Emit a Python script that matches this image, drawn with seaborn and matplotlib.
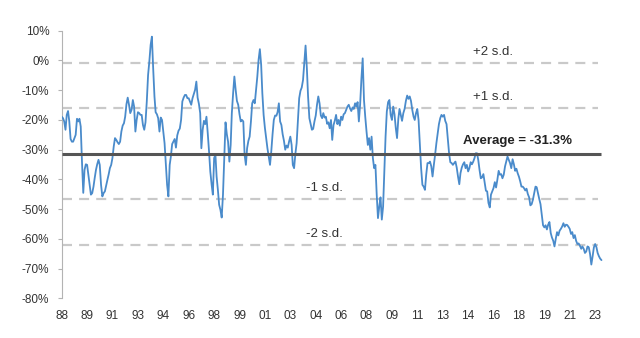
import numpy as np
import pandas as pd
import matplotlib
matplotlib.use("Agg")
import matplotlib.pyplot as plt
import seaborn as sns

# ---------------- data ----------------
start_month = "1988-01-01"
valuation = [
    # 1988-01 .. 1993-08
    -18.9, -19.4, -20.5, -23.3, -18.3, -17.0, -20.5, -26.4, -27.3, -27.3,
    -26.1, -25.0, -19.6, -20.5, -19.6, -22.2, -34.0, -44.5, -36.8, -34.9,
    -35.1, -38.4, -41.8, -45.1, -44.6, -42.4, -39.6, -36.8, -34.9, -33.4,
    -35.1, -41.8, -45.7, -44.6, -44.0, -42.0, -40.1, -38.2, -36.2, -35.1,
    -32.8, -28.9, -26.1, -26.7, -27.5, -28.1, -27.3, -23.9, -21.9, -21.1,
    -18.9, -14.7, -12.5, -14.9, -17.7, -16.6, -13.3, -15.5, -23.9, -20.0,
    -17.4, -17.7, -18.3, -18.3, -21.7, -23.3, -20.8, -13.8,
    # 1993-09 .. 1999-08
    -4.9, -0.4, 5.2, 8.0, -2.6, -12.1, -17.4, -18.1, -19.4, -23.9,
    -19.2, -20.0, -23.9, -27.8, -35.1, -41.8, -45.7, -35.1, -32.3, -28.1,
    -27.3, -26.4, -29.3, -25.2, -23.6, -22.9, -20.0, -13.8, -12.5, -11.6,
    -11.6, -12.7, -12.7, -13.8, -14.9, -12.7, -11.3, -9.9, -7.1, -12.5,
    -14.6, -17.7, -29.5, -23.3, -20.3, -21.4, -18.9, -24.5, -30.6, -37.3,
    -41.6, -45.1, -32.8, -31.7, -39.0, -43.5, -48.5, -50.2, -52.8, -45.1,
    -32.3, -20.8, -24.8, -27.3, -34.0, -28.4, -17.7, -11.0, -5.4, -9.9,
    -13.6, -14.9,
    # 1999-09 .. 2005-06
    -18.1, -20.5, -20.0, -20.5, -31.7, -35.1, -29.5, -27.0, -25.6, -20.5,
    -14.4, -13.3, -14.4, -9.9, -5.4, 0.2, 3.8, -1.5, -11.0, -18.3,
    -22.6, -26.1, -29.5, -32.3, -35.1, -30.6, -24.8, -20.0, -18.5, -18.6,
    -17.4, -14.4, -20.5, -21.7, -24.8, -27.0, -30.0, -28.6, -29.3, -27.3,
    -25.6, -28.4, -35.1, -36.2, -31.5, -27.8, -20.5, -12.7, -10.2, -9.1,
    -6.6, -1.0, 5.0, -2.6, -12.1, -19.4, -21.4, -23.3, -23.0, -20.5,
    -18.5, -14.9, -12.1, -14.4, -18.5, -19.4, -17.7, -19.2, -18.9, -21.3,
    # 2005-07 .. 2011-05
    -20.8, -22.8, -20.0, -26.7, -21.7, -20.3, -18.3, -21.4, -20.0, -21.9,
    -18.9, -20.0, -18.1, -17.7, -16.6, -15.5, -14.9, -16.1, -17.0, -15.8,
    -16.3, -14.4, -15.5, -14.0, -20.5, -14.7, -6.0, 0.7, -13.3, -18.9,
    -23.9, -28.4, -26.1, -30.0, -25.6, -32.8, -36.2, -35.1, -45.1, -53.0,
    -49.1, -46.0, -53.5, -49.1, -38.4, -25.6, -17.2, -14.0, -13.3, -18.3,
    -20.0, -15.5, -18.1, -22.6, -26.1, -19.6, -16.3, -18.3, -20.3, -17.7,
    -16.3, -13.6, -11.8, -12.9, -12.1, -13.6, -16.6, -18.9, -20.0, -17.7,
    -16.3,
    # 2011-06 .. 2017-04
    -20.0, -27.8, -36.2, -41.8, -42.4, -43.5, -38.4, -34.5, -34.5,
    -34.0, -35.6, -39.0, -35.1, -31.7, -27.8, -24.5, -21.4, -19.4, -18.3,
    -18.9, -18.3, -20.3, -21.4, -26.1, -31.2, -34.2, -34.5, -35.1, -34.5,
    -34.0, -36.0, -39.0, -41.6, -37.9, -36.0, -34.9, -34.2, -36.2, -35.1,
    -37.3, -36.2, -34.2, -34.9, -34.0, -32.8, -31.2, -31.2, -33.4, -36.8,
    -39.6, -39.3, -38.2, -40.9, -43.8, -44.0, -47.9, -49.4, -45.1, -44.0,
    -42.9, -40.9, -42.7, -40.1, -37.1, -38.4, -38.2, -39.6, -38.4, -35.6,
    -34.0, -32.3,
    # 2017-05 .. 2023-06
    -33.4, -34.5, -36.2, -33.2, -34.9, -37.1, -36.4, -37.9,
    -39.1, -40.7, -42.4, -42.4, -42.9, -43.7, -43.1, -44.9, -46.0, -48.7,
    -48.3, -46.8, -44.6, -42.4, -42.6, -44.6, -46.5, -48.3, -51.9, -55.4,
    -56.1, -55.4, -56.8, -55.2, -54.3, -58.0, -59.5, -60.6, -62.5, -59.9,
    -57.7, -58.8, -57.2, -56.6, -55.8, -54.7, -55.9, -55.2, -55.3, -55.9,
    -56.6, -58.3, -57.7, -59.7, -58.7, -60.6, -61.7, -61.5, -62.3, -63.3,
    -62.5, -63.3, -64.7, -64.2, -62.5, -62.8, -65.1, -68.6, -65.8, -62.8,
    -61.7, -62.8, -64.7, -65.8, -66.6, -67.1,
]
average = -31.3
std_dev = 15.3
sd_multiples = [2, 1, -1, -2]
sd_labels = ["+2 s.d.", "+1 s.d.", "-1 s.d.", "-2 s.d."]
x_tick_labels = ["88", "89", "91", "93", "94", "96", "98", "99", "01", "03", "04",
                 "06", "08", "09", "11", "13", "14", "16", "18", "19", "21", "23"]
y_ticks = list(range(-80, 11, 10))

# ---------------- figure ----------------
sns.set_style("white")
plt.rcParams["font.family"] = ["Liberation Sans", "DejaVu Sans"]

dates = pd.date_range(start_month, periods=len(valuation), freq="MS")
df = pd.DataFrame({"date": dates, "value": valuation})

fig = plt.figure(figsize=(6.4, 3.38), dpi=100)
ax = fig.add_axes([0.0964, 0.1169, 0.8494, 0.7923])

sns.lineplot(data=df, x="date", y="value", ax=ax, color="#4a8bcb",
             linewidth=1.3, zorder=3)

dash_end = dates[-1] - pd.DateOffset(months=3)
for k, lab in zip(sd_multiples, sd_labels):
    lvl = average + k * std_dev
    ax.hlines(lvl, dates[0], dash_end, colors="#c9c9c9", linewidth=1.6,
              linestyles=(0, (4.5, 3.2)), zorder=1)
    xc = pd.Timestamp("2016-04-20") if k > 0 else pd.Timestamp("2005-04-01")
    ax.annotate(lab, xy=(xc, lvl), xytext=(0, 3.5), textcoords="offset points",
                ha="center", va="bottom", fontsize=9.5, color="#333333")

ax.hlines(average, dates[0], dates[-1], colors="#555555", linewidth=2.2, zorder=4)
ax.annotate(f"Average = {average:.1f}%", xy=(pd.Timestamp("2017-11-15"), average),
            xytext=(0, 4.5), textcoords="offset points", ha="center", va="bottom",
            fontsize=9.5, fontweight="bold", color="#222222")

ax.set_ylim(-80, 10)
ax.set_yticks(y_ticks)
ax.set_yticklabels([f"{v}%" for v in y_ticks])
tick_dates = pd.date_range(start_month, periods=len(x_tick_labels), freq="20MS")
ax.set_xticks(tick_dates)
ax.set_xticklabels(x_tick_labels)
ax.set_xlim(dates[0], dates[-1] + pd.DateOffset(months=3))
ax.set_xlabel("")
ax.set_ylabel("")

for s in ("top", "right", "bottom"):
    ax.spines[s].set_visible(False)
ax.spines["left"].set_color("#b3b3b3")
ax.spines["left"].set_linewidth(0.8)
ax.tick_params(axis="y", left=True, length=3, width=0.8, color="#b3b3b3",
               pad=6, labelsize=8.5, labelcolor="#333333")
ax.tick_params(axis="x", bottom=False, length=0, pad=8, labelsize=8.5,
               labelcolor="#333333")
ax.grid(False)

fig.savefig("out.png", dpi=100)
